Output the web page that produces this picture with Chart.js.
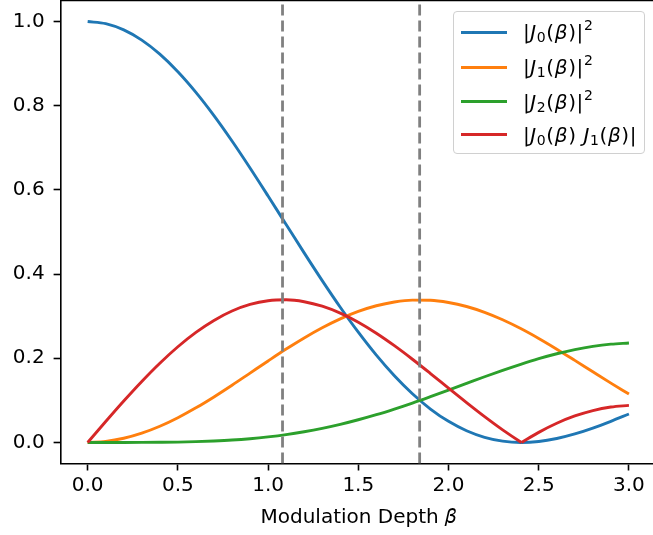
<!DOCTYPE html>
<html>
<head>
<meta charset="utf-8">
<script src="https://cdn.jsdelivr.net/npm/chart.js@4.4.1/dist/chart.umd.min.js"></script>
<style>
    body { margin: 0; background: #fff; overflow: hidden; }
    #contenitore { position: relative; width: 680px; height: 535px; }
    #legenda {
        position: absolute; left: 453px; top: 11px; width: 192px; height: 143px;
        box-sizing: border-box; border: 1px solid #d0d0d0; border-radius: 4px;
        background: rgba(255, 255, 255, 0.8);
        font-family: 'DejaVu Sans'; font-size: 20px; color: #000;
    }
    .linea { position: absolute; left: 7px; width: 46px; height: 3px; }
    .testo { position: absolute; left: 69px; height: 24px; line-height: 24px; white-space: nowrap; letter-spacing: 0.6px; }
    .testo sub, .testo sup { font-size: 70%; line-height: 0; }
    .testo sub { vertical-align: -0.22em; }
    .testo sup { vertical-align: 0.62em; }
</style>
</head>
<body>
<div id="contenitore">
    <canvas id="grafico" width="680" height="535"></canvas>
    <div id="legenda"></div>
</div>
<script>
// valori, passo 0.1 in beta
const beta = [0.0, 0.1, 0.2, 0.3, 0.4, 0.5, 0.6, 0.7, 0.8, 0.9, 1.0, 1.1, 1.2, 1.3, 1.4, 1.5,
    1.6, 1.7, 1.8, 1.9, 2.0, 2.1, 2.2, 2.3, 2.4, 2.5, 2.6, 2.7, 2.8, 2.9, 3.0];

const j0Quadro = [1.0, 0.9950, 0.9801, 0.9558, 0.9224, 0.8807, 0.8317, 0.7765, 0.7162, 0.6521,
    0.5855, 0.5179, 0.4504, 0.3845, 0.3213, 0.2620, 0.2074, 0.1584, 0.1156, 0.0794,
    0.0501, 0.0278, 0.0122, 0.0031, 0.0000, 0.0023, 0.0094, 0.0203, 0.0342, 0.0503, 0.0676];

const j1Quadro = [0.0, 0.0025, 0.0099, 0.0220, 0.0384, 0.0587, 0.0822, 0.1082, 0.1360, 0.1648,
    0.1936, 0.2218, 0.2483, 0.2725, 0.2937, 0.3113, 0.3248, 0.3338, 0.3382, 0.3378,
    0.3326, 0.3230, 0.3091, 0.2915, 0.2706, 0.2471, 0.2217, 0.1950, 0.1679, 0.1410, 0.1150];

const j2Quadro = [0.0, 0.0000, 0.0000, 0.0001, 0.0004, 0.0009, 0.0019, 0.0035, 0.0057, 0.0089,
    0.0132, 0.0186, 0.0254, 0.0335, 0.0430, 0.0539, 0.0660, 0.0794, 0.0937, 0.1089,
    0.1245, 0.1403, 0.1561, 0.1713, 0.1857, 0.1990, 0.2107, 0.2205, 0.2282, 0.2335, 0.2363];

const j0j1Abs = [0.0, 0.0498, 0.0985, 0.1450, 0.1883, 0.2274, 0.2615, 0.2899, 0.3122, 0.3278,
    0.3367, 0.3389, 0.3344, 0.3237, 0.3072, 0.2856, 0.2595, 0.2299, 0.1977, 0.1638,
    0.1291, 0.0947, 0.0614, 0.0300, 0.0013, 0.0240, 0.0456, 0.0629, 0.0758, 0.0842, 0.0882];

const zeroJ0 = 2.405;          // dove la curva rossa tocca lo zero
const lineeVerticali = [1.08, 1.84];

const tickX = [0.0, 0.5, 1.0, 1.5, 2.0, 2.5, 3.0];
const tickY = [0.0, 0.2, 0.4, 0.6, 0.8, 1.0];

const etichette = [
    '|<i>J</i><sub>0</sub>(<i>β</i>)|<sup>2</sup>',
    '|<i>J</i><sub>1</sub>(<i>β</i>)|<sup>2</sup>',
    '|<i>J</i><sub>2</sub>(<i>β</i>)|<sup>2</sup>',
    '|<i>J</i><sub>0</sub>(<i>β</i>) <i>J</i><sub>1</sub>(<i>β</i>)|'
];
const colori = ['#1f77b4', '#ff7f0e', '#2ca02c', '#d62728'];

const font = { family: 'DejaVu Sans', size: 20 };

function punti(valori, filtro) {
    return beta.map((b, i) => ({ x: b, y: valori[i] })).filter(p => filtro(p.x));
}

const tutti = () => true;
const serie = [
    punti(j0Quadro, tutti),
    punti(j1Quadro, tutti),
    punti(j2Quadro, tutti),
    punti(j0j1Abs, b => b < zeroJ0).concat([{ x: zeroJ0, y: 0 }])
];
// secondo tratto della curva rossa, dopo lo zero (spigolo vivo)
const rossaDopo = [{ x: zeroJ0, y: 0 }].concat(punti(j0j1Abs, b => b > zeroJ0));

const datasets = serie.map((dati, i) => ({
    label: etichette[i].replace(/<[^>]+>/g, ''),
    data: dati,
    borderColor: colori[i],
    borderWidth: 2.9,
    pointRadius: 0,
    cubicInterpolationMode: 'monotone',
    order: 20 - i
}));
datasets.push({
    label: 'rossa2', data: rossaDopo, borderColor: colori[3], borderWidth: 2.9,
    pointRadius: 0, cubicInterpolationMode: 'monotone', order: 16
});
lineeVerticali.forEach(v => {
    datasets.push({
        label: 'beta ' + v,
        data: [{ x: v, y: -0.05 }, { x: v, y: 1.05 }],
        borderColor: '#808080',
        borderWidth: 2.8,
        borderDash: [11, 5],
        pointRadius: 0,
        order: 1
    });
});

// bordo superiore del riquadro (quello destro cade fuori dalla finestra)
const cornice = {
    id: 'cornice',
    afterDatasetsDraw(chart) {
        const a = chart.chartArea;
        const c = chart.ctx;
        c.save();
        c.strokeStyle = '#000';
        c.lineWidth = 1.6;
        c.beginPath();
        c.moveTo(a.left, a.top);
        c.lineTo(a.right, a.top);
        c.stroke();
        c.restore();
    }
};

const ctx = document.getElementById('grafico').getContext('2d');
new Chart(ctx, {
    type: 'line',
    data: { datasets: datasets },
    options: {
        responsive: false,
        animation: false,
        layout: { padding: { top: 0.5, right: 24, left: 0, bottom: 0 } },
        plugins: { legend: { display: false }, tooltip: { enabled: false } },
        scales: {
            x: {
                type: 'linear', min: -0.15, max: 3.15,
                afterBuildTicks: s => { s.ticks = tickX.map(v => ({ value: v })); },
                afterFit: s => { s.height = 71.5; s.paddingLeft = 0; s.paddingRight = 0; },
                ticks: {
                    callback: v => v.toFixed(1), color: '#000', font: font,
                    padding: 3, maxRotation: 0, autoSkip: false
                },
                grid: { drawOnChartArea: false, tickLength: 7, tickWidth: 1.6, color: '#000' },
                border: { color: '#000', width: 1.6 },
                title: {
                    display: true, text: 'Modulation Depth 𝛽', color: '#000', font: font,
                    padding: { top: 0, bottom: 5 }
                }
            },
            y: {
                type: 'linear', min: -0.05, max: 1.05,
                afterBuildTicks: s => { s.ticks = tickY.map(v => ({ value: v })); },
                afterFit: s => { s.width = 60.6; s.paddingTop = 0; s.paddingBottom = 0; },
                ticks: { callback: v => v.toFixed(1), color: '#000', font: font, padding: 9 },
                grid: { drawOnChartArea: false, tickLength: 7, tickWidth: 1.6, color: '#000' },
                border: { color: '#000', width: 1.6 }
            }
        }
    },
    plugins: [cornice]
});

// legenda in HTML per avere J corsivo con pedici e apici
const legenda = document.getElementById('legenda');
const centri = [20, 55, 89.5, 122.5];
etichette.forEach((et, i) => {
    legenda.innerHTML += `
        <div class="linea" style="top:${centri[i] - 1.5}px;background:${colori[i]}"></div>
        <div class="testo" style="top:${centri[i] - 12}px">${et}</div>`;
});
</script>
</body>
</html>
